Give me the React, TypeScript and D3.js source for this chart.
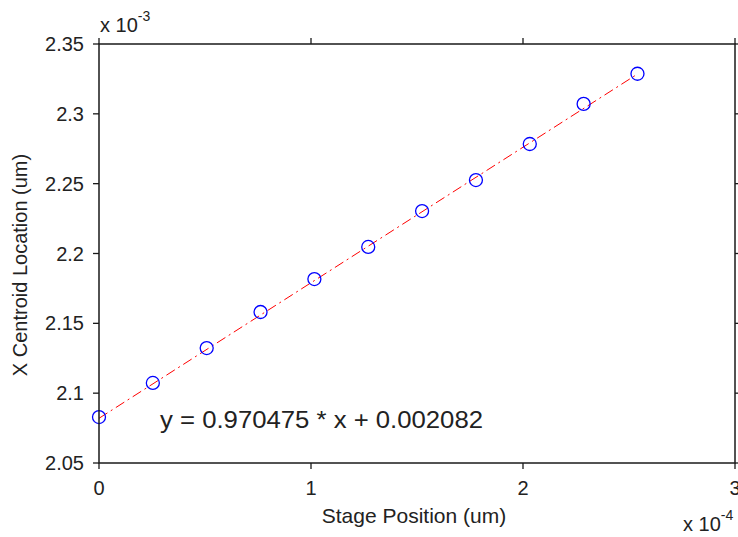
import React from "react";
import * as d3 from "d3";

// Data (x in units of 1e-4 um, y in units of 1e-3 um)
const stagePositions = [0, 0.254, 0.508, 0.762, 1.016, 1.27, 1.524, 1.778, 2.032, 2.286, 2.54];
const centroidX = [2.0829, 2.1073, 2.1323, 2.1581, 2.1817, 2.2047, 2.2304, 2.2526, 2.2784, 2.3071, 2.3287];
const xTicks = [0, 1, 2, 3];
const yTicks = [2.05, 2.1, 2.15, 2.2, 2.25, 2.3, 2.35];
const slope = 0.970475;
const intercept = 0.002082;
const equationText = "y = 0.970475 * x + 0.002082";

const W = 738;
const H = 537;
const M = { left: 99, right: 735, top: 44, bottom: 463 };
const FONT = "Arial, 'Liberation Sans', Helvetica, sans-serif";

export default function App() {
  const x = d3.scaleLinear().domain([0, 3]).range([M.left, M.right]);
  const y = d3.scaleLinear().domain([2.05, 2.35]).range([M.bottom, M.top]);

  // fit line: y(um) = slope * x(um) + intercept ; x um = xv*1e-4, y in 1e-3 units
  const fitY = (xv: number) => (slope * xv * 1e-4 + intercept) * 1e3;
  const fitX = [stagePositions[0], stagePositions[stagePositions.length - 1]];
  const line = d3
    .line<number>()
    .x((d) => x(d))
    .y((d) => y(fitY(d)));

  const tickLen = 6;
  const axisColor = "#1a1a1a";

  return (
    <svg
      width={W}
      height={H}
      style={{ position: "absolute", left: 0, top: 0, background: "#fff" }}
      fontFamily={FONT}
    >
      <rect x={0} y={0} width={W} height={H} fill="#fff" />
      {/* fit line */}
      <path
        d={line(fitX) || ""}
        fill="none"
        stroke="#ff0000"
        strokeWidth={1}
        strokeDasharray="10,4,2,4"
      />
      {/* points */}
      {stagePositions.map((sp, i) => (
        <circle
          key={i}
          cx={x(sp)}
          cy={y(centroidX[i])}
          r={6.5}
          fill="none"
          stroke="#0000ff"
          strokeWidth={1.3}
        />
      ))}
      {/* box */}
      <rect
        x={M.left}
        y={M.top}
        width={M.right - M.left}
        height={M.bottom - M.top}
        fill="none"
        stroke={axisColor}
        strokeWidth={1.5}
      />
      {/* x ticks */}
      {xTicks.map((t) => (
        <g key={"xt" + t}>
          <line x1={x(t)} x2={x(t)} y1={M.bottom} y2={M.bottom + tickLen} stroke={axisColor} strokeWidth={1.3} />
          <line x1={x(t)} x2={x(t)} y1={M.top} y2={M.top - tickLen} stroke={axisColor} strokeWidth={1.3} />
          <text x={x(t)} y={495} textAnchor="middle" fontSize={20} fill="#222">
            {t}
          </text>
        </g>
      ))}
      {/* y ticks */}
      {yTicks.map((t) => (
        <g key={"yt" + t}>
          <line x1={M.left} x2={M.left - tickLen} y1={y(t)} y2={y(t)} stroke={axisColor} strokeWidth={1.3} />
          <line x1={M.right} x2={M.right + tickLen} y1={y(t)} y2={y(t)} stroke={axisColor} strokeWidth={1.3} />
          <text x={84} y={y(t) + 7} textAnchor="end" fontSize={20} fill="#222">
            {d3.format("")(t)}
          </text>
        </g>
      ))}
      {/* exponent labels */}
      <text x={100} y={32} fontSize={20} fill="#222">
        x 10<tspan dy={-11} fontSize={14}>-3</tspan>
      </text>
      <text x={683} y={531} fontSize={20} fill="#222">
        x 10<tspan dy={-11} fontSize={14}>-4</tspan>
      </text>
      {/* axis labels */}
      <text x={414} y={523} textAnchor="middle" fontSize={21} fill="#222">
        Stage Position (um)
      </text>
      <text
        transform={`translate(27, 265) rotate(-90)`}
        textAnchor="middle"
        fontSize={20}
        fill="#222"
      >
        X Centroid Location (um)
      </text>
      {/* equation */}
      <text
        x={160}
        y={428}
        fontSize={24}
        fill="#222"
        textLength={323}
        lengthAdjust="spacingAndGlyphs"
      >
        {equationText}
      </text>
    </svg>
  );
}
